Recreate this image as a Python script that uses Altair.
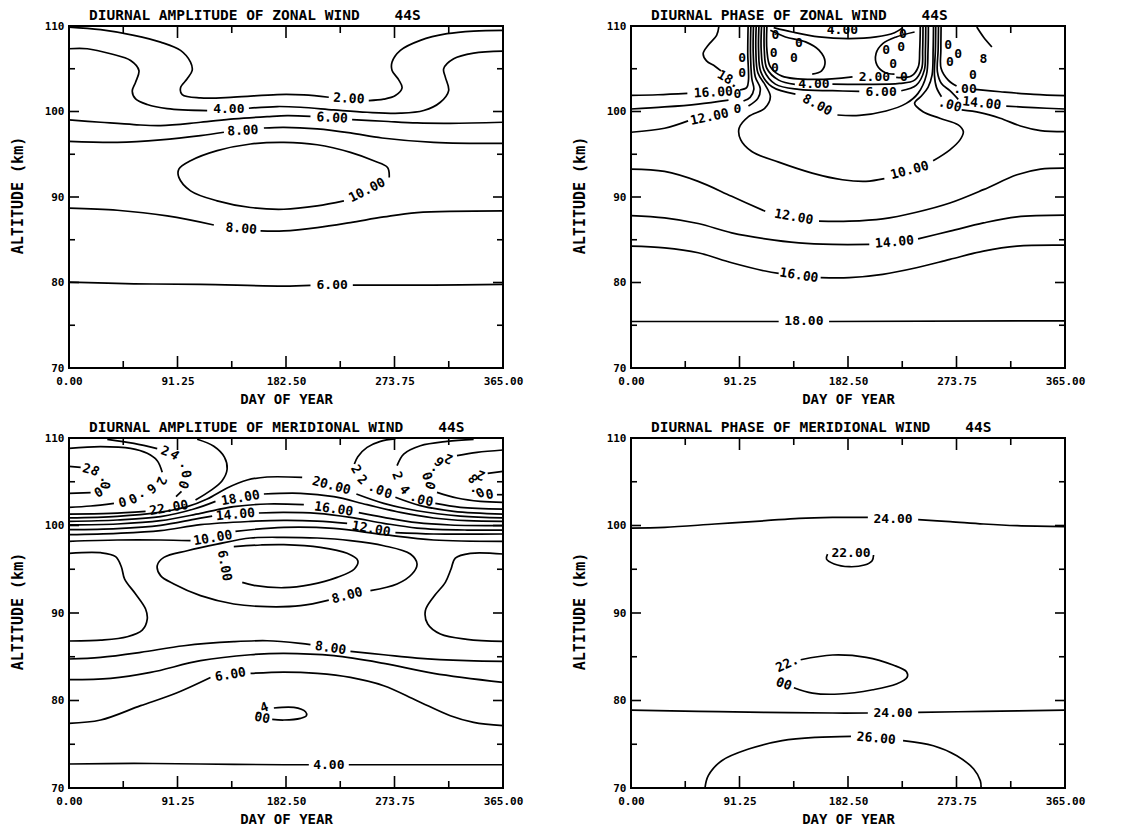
import altair as alt
import pandas as pd

FONT = "DejaVu Sans Mono"
NB = "\u00a0"

# ---------------- axis values ----------------
X_LABELS = [0, 91.25, 182.5, 273.75, 365]
Y_LABELS = [70, 80, 90, 100, 110]
X_MAJOR = [91.25, 182.5, 273.75]
X_MINOR = [45.625, 136.875, 228.125, 319.375]
Y_MAJOR = [80, 90, 100]
Y_MINOR = [75, 85, 95, 105]

TITLE_TL = "DIURNAL AMPLITUDE OF ZONAL WIND" + NB * 4 + "44S"
TITLE_TR = "DIURNAL PHASE OF ZONAL WIND" + NB * 4 + "44S"
TITLE_BL = "DIURNAL AMPLITUDE OF MERIDIONAL WIND" + NB * 4 + "44S"
TITLE_BR = "DIURNAL PHASE OF MERIDIONAL WIND" + NB * 4 + "44S"

# ---------------- top-left: amplitude of zonal wind ----------------
TL_2 = [
    [(0, 109.88), (26.6, 109.57), (54.6, 108.91), (77.0, 108.12), (93.8, 107.15), (102.2, 105.78),
     (103.6, 104.80), (99.4, 103.82), (93.8, 102.77), (95.2, 101.98), (110.6, 101.59), (138.6, 101.67),
     (175.1, 101.98), (197.5, 101.94), (218.5, 101.67)],
    [(252.1, 101.28), (264.7, 101.44), (274.5, 101.87), (280.1, 102.77), (277.3, 103.70), (271.7, 104.80),
     (271.7, 105.78), (278.7, 107.15), (295.5, 108.32), (317.9, 109.10), (340.3, 109.41), (365, 109.49)],
]
TL_4 = [
    [(0, 107.34), (15.4, 107.34), (35.0, 106.75), (51.8, 105.97), (58.8, 104.80), (56.0, 103.43),
     (53.2, 102.38), (56.0, 101.48), (65.8, 100.82), (82.6, 100.34), (116.2, 100.11)],
    [(151.3, 100.38), (175.1, 100.58), (194.7, 100.50), (222.7, 100.19), (250.7, 99.91), (278.7, 99.80),
     (298.3, 100.11), (312.3, 101.08), (319.3, 102.45), (316.5, 104.02), (315.1, 105.0), (323.5, 106.17),
     (340.3, 106.83), (365, 107.07)],
]
TL_6A = [
    [(0, 99.01), (26.6, 98.74), (54.6, 98.47), (77.0, 98.35), (110.6, 98.74), (138.6, 99.13),
     (166.6, 99.40), (183.5, 99.52), (203.1, 99.44)],
    [(238.1, 99.05), (264.7, 98.86), (292.7, 98.66), (320.7, 98.62), (365, 98.74)],
]
TL_8A = [
    [(0, 96.51), (40.6, 96.39), (77.0, 96.67), (110.6, 97.17), (130.3, 97.57)],
    [(163.9, 98.07), (180.7, 98.15), (208.7, 97.96), (236.7, 97.49), (263.3, 96.90), (306.7, 96.39), (365, 96.27)],
]
TL_10 = [
    [(269.3, 92.28), (267.9, 93.46), (256.3, 94.24), (236.7, 95.22), (208.7, 96.11), (180.7, 96.39),
     (152.7, 96.20), (124.6, 95.42), (102.2, 94.24), (92.4, 93.27), (92.4, 92.29), (102.2, 90.72),
     (124.6, 89.55), (152.7, 88.77), (180.7, 88.57), (208.7, 88.96), (231.2, 89.55)],
]
TL_8B = [
    [(0, 88.69), (40.6, 88.45), (82.6, 87.79), (121.8, 86.73)],
    [(161.1, 86.03), (180.7, 86.03), (208.7, 86.42), (236.7, 87.01), (264.7, 87.67), (292.7, 88.18), (365, 88.38)],
]
TL_6B = [
    [(0, 80.05), (54.6, 79.85), (110.6, 79.78), (180.7, 79.58), (203.1, 79.66)],
    [(238.7, 79.70), (306.7, 79.70), (365, 79.78)],
]
TL_LABELS = [
    ("2.00", 235.3, 101.5, 3), ("4.00", 134.4, 100.30, 0), ("6.00", 221.3, 99.25, 3),
    ("8.00", 146.2, 97.76, 357), ("10.00", 250.7, 90.8, 333), ("8.00", 144.8, 86.30, 4),
    ("6.00", 221.3, 79.70, 0),
]

# ---------------- top-right: phase of zonal wind ----------------
TR_18 = [[(0, 75.44), (124.2, 75.44)], [(166.6, 75.44), (365, 75.52)]]
TR_16 = [
    [(0, 84.26), (28.2, 84.06), (56.5, 83.48), (84.7, 82.31), (112.9, 81.34), (124.2, 81.07)],
    [(159.5, 80.57), (183.5, 80.57), (211.7, 80.96), (240.0, 81.73), (268.2, 82.70), (296.4, 83.67),
     (324.6, 84.26), (365, 84.37)],
]
TR_14 = [
    [(0, 87.83), (28.2, 87.56), (56.5, 86.90), (84.7, 85.81), (112.9, 85.11), (141.2, 84.64),
     (169.4, 84.45), (200.4, 84.45)],
    [(241.4, 85.11), (268.2, 86.00), (296.4, 86.97), (324.6, 87.67), (365, 87.87)],
]
TR_12 = [
    [(0, 93.26), (28.2, 92.99), (56.5, 91.83), (84.7, 90.08), (112.9, 88.33)],
    [(158.1, 87.17), (183.5, 87.17), (211.7, 87.44), (240.0, 88.22), (268.2, 89.30), (296.4, 90.86),
     (324.6, 92.60), (344.4, 93.26), (365, 93.38)],
]
TR_10 = [
    [(105.3, 110), (105.0, 107.17), (106.7, 104.52), (112.9, 103.09), (117.2, 101.73), (112.4, 100.37),
     (98.8, 99.40), (90.9, 98.04), (92.3, 96.68), (101.6, 95.32), (124.2, 94.08), (152.4, 92.80),
     (177.8, 92.02), (197.6, 91.83), (213.1, 92.14)],
    [(254.1, 94.23), (268.2, 95.52), (276.7, 96.68), (279.5, 97.65), (275.2, 98.43), (259.7, 99.21),
     (245.6, 99.98), (238.5, 100.95), (244.2, 101.81), (249.8, 102.82), (253.2, 104.25), (254.1, 107.17),
     (254.4, 110)],
]
TR_12_UP = [
    [(103.0, 110), (102.8, 106.78), (104.5, 104.06), (108.7, 102.70), (106.7, 101.53), (98.8, 100.64)],
    [(48.0, 98.90), (28.2, 98.04), (0, 97.57)],
    [(256.3, 110), (256.0, 107.17), (255.2, 104.25), (256.9, 102.82), (261.1, 101.73)],
    [(278.1, 100.18), (293.6, 99.87), (310.5, 99.21), (327.5, 98.31), (344.4, 97.77), (365, 97.65)],
]
TR_14_UP = [
    [(100.8, 110), (100.5, 106.78), (101.6, 103.86), (103.3, 102.58), (100.2, 101.65), (94.6, 101.22)],
    [(82.0, 101.34), (56.5, 100.87), (28.2, 100.53), (0, 100.29)],
    [(258.6, 110), (258.3, 107.17), (257.7, 104.64), (261.1, 103.28), (268.2, 102.43), (275.2, 101.42)],
    [(315.6, 100.64), (338.8, 100.45), (365, 100.29)],
]
TR_16_UP = [
    [(98.5, 110), (98.2, 106.78), (98.8, 103.67), (97.4, 102.82), (91.7, 102.51)],
    [(47.4, 102.12), (22.6, 101.96), (0, 101.88)],
    [(260.8, 110), (260.6, 107.17), (260.8, 105.03), (266.8, 103.67), (273.8, 102.97)],
    [(289.4, 102.58), (310.5, 102.31), (338.8, 102.0), (365, 101.85)],
]
TR_18_UP = [
    [(74.0, 110), (72.0, 108.91), (64.9, 107.75), (60.7, 106.78), (63.5, 105.92), (70.6, 105.30), (75.7, 104.76)],
    [(290.8, 109.88), (296.4, 108.72), (303.5, 107.55)],
]
TR_2 = [
    [(114.3, 110), (114.3, 107.17), (117.2, 105.22), (127.0, 104.14), (155.3, 103.75), (186.3, 104.06)],
    [(223.0, 103.98), (235.7, 104.14), (241.6, 105.22), (242.8, 107.17), (243.3, 110)],
]
TR_4 = [
    [(112.1, 110), (112.1, 107.17), (114.3, 105.03), (124.2, 103.67), (137.8, 103.17)],
    [(169.4, 103.20), (197.6, 103.17), (225.8, 103.28), (238.5, 103.67), (244.5, 105.03), (245.3, 107.17), (245.6, 110)],
    [(120.0, 109.81), (135.5, 109.30), (158.1, 108.72), (183.5, 108.52), (206.1, 108.72), (221.6, 109.22), (228.7, 109.81)],
]
TR_6 = [
    [(109.8, 110), (109.5, 107.17), (111.8, 104.84), (121.4, 103.20), (141.2, 102.58), (169.4, 102.43), (192.0, 102.35)],
    [(227.3, 102.43), (240.0, 103.09), (246.7, 104.84), (247.6, 107.17), (247.9, 110)],
]
TR_8 = [
    [(107.6, 110), (107.3, 107.17), (109.2, 104.64), (118.6, 102.89), (138.3, 102.04)],
    [(173.6, 99.59), (192.0, 99.55), (214.5, 100.06), (231.5, 100.95), (241.4, 102.12), (248.4, 104.25),
     (249.8, 107.17), (250.1, 110)],
]
TR_0 = [
    [(117.2, 109.50), (129.9, 108.72), (146.8, 108.14), (158.1, 107.17), (163.2, 105.81), (160.3, 104.76), (152.4, 104.37)],
    [(238.5, 109.30), (223.0, 108.72), (211.7, 107.94), (206.1, 106.78), (206.9, 105.42), (214.0, 104.52), (221.6, 104.37)],
]
TR_LABELS = [
    ("2.00", 204.7, 104.06, 0), ("4.00", 153.9, 103.20, 0), ("6.00", 210.3, 102.31, 0),
    ("8.00", 156.7, 100.76, 28), ("10.00", 234.3, 93.11, 345), ("12.00", 136.9, 87.67, 10),
    ("14.00", 221.6, 84.72, 355), ("16.00", 141.2, 80.84, 9), ("18.00", 145.4, 75.44, 0),
    ("12.00", 66.0, 99.35, 348), ("0", 89.5, 102.05, 0), ("0", 89.5, 100.30, 0),
    ("16.00", 69.2, 102.23, 357), ("18.", 81.9, 103.75, 30), (".00", 268.2, 100.76, 15),
    ("14.00", 295.0, 100.95, 6), (".00", 280.9, 102.58, 0), ("4.00", 177.8, 109.55, 0),
    ("0", 121.4, 108.91, 0), ("0", 141.2, 108.02, 0), ("0", 120.0, 106.90, 0), ("0", 137.0, 106.20, 0),
    ("0", 121.0, 105.05, 0), ("0", 93.5, 106.30, 0), ("0", 93.5, 104.55, 0), ("0", 228.7, 109.11, 0),
    ("0", 227.3, 107.55, 0), ("0", 214.5, 107.17, 0), ("0", 220.5, 105.55, 0), ("0", 229.5, 104.05, 0),
    ("0", 266.8, 107.75, 0), ("0", 268.2, 105.81, 0), ("0", 275.2, 106.78, 0), ("0", 287.5, 104.25, 0),
    ("8", 296.4, 106.19, 0),
]

# ---------------- bottom-left: amplitude of meridional wind ----------------
BL_28 = [[(0, 106.76), (9.8, 106.65)], [(18.2, 103.75), (0, 103.68)],
         [(365, 106.19), (352.1, 105.96)], [(359.9, 103.52), (365, 103.52)]]
BL_26 = [
    [(0, 108.82), (26.6, 109.01), (51.8, 108.82), (65.8, 108.25), (74.2, 107.41), (78.4, 106.08)],
    [(37.8, 102.53), (18.2, 102.23), (0, 102.08)],
    [(365, 108.63), (343.1, 108.36), (326.3, 107.98)],
    [(309.5, 103.79), (326.3, 103.14), (345.9, 102.76), (365, 102.65)],
]
BL_24 = [
    [(32.2, 109.85), (54.6, 109.39), (74.2, 108.78)],
    [(94.6, 103.90), (90.0, 103.29)],
    [(340.3, 109.85), (317.9, 109.62), (295.5, 109.12), (281.5, 108.17), (275.9, 106.84)],
    [(308.1, 102.53), (329.1, 102.08), (365, 101.88)],
]
BL_22 = [
    [(107.8, 109.85), (121.8, 109.05), (130.8, 107.79), (133.0, 106.46), (128.8, 105.12), (119.0, 103.98), (106.4, 102.91)],
    [(64.4, 101.62), (35.0, 101.39), (0, 101.31)],
    [(274.5, 109.89), (261.9, 109.62), (250.7, 108.93), (242.9, 107.87), (240.0, 107.03)],
    [(274.5, 103.22), (295.5, 102.27), (323.5, 101.62), (365, 101.31)],
]
BL_20 = [
    [(0, 100.86), (40.6, 101.05), (74.2, 101.47), (99.4, 102.15), (116.2, 103.03), (133.0, 104.29),
     (149.9, 105.20), (166.6, 105.54), (196.1, 105.50)],
    [(241.7, 103.60), (264.7, 102.53), (292.7, 101.69), (329.1, 101.08), (365, 100.86)],
]
BL_18 = [
    [(0, 100.47), (40.6, 100.63), (77.0, 101.01), (105.0, 101.88), (123.2, 102.76)],
    [(163.9, 103.60), (194.7, 103.68), (222.7, 103.29), (250.7, 102.38), (278.7, 101.50), (306.7, 100.86),
     (334.7, 100.55), (365, 100.47)],
]
BL_16 = [
    [(0, 100.06), (40.6, 100.17), (77.0, 100.55), (110.6, 101.39), (138.6, 102.15), (166.6, 102.46), (197.5, 102.38)],
    [(243.7, 101.47), (264.7, 100.93), (292.7, 100.32), (320.7, 100.06), (365, 99.98)],
]
BL_14 = [
    [(0, 99.52), (40.6, 99.64), (77.0, 100.02), (105.0, 100.70), (120.4, 101.08)],
    [(159.7, 101.43), (180.7, 101.50), (208.7, 101.39), (236.7, 100.93), (264.7, 100.25), (292.7, 99.71),
     (334.7, 99.48), (365, 99.48)],
]
BL_12 = [
    [(0, 98.95), (40.6, 99.10), (77.0, 99.41), (110.6, 100.09), (152.7, 100.47), (180.7, 100.59),
     (208.7, 100.51), (233.9, 100.25)],
    [(274.5, 99.18), (306.7, 99.03), (365, 99.03)],
]
BL_10 = [
    [(0, 98.19), (40.6, 98.34), (77.0, 98.34), (102.2, 98.27)],
    [(140.0, 99.33), (180.7, 99.79), (222.7, 99.67), (264.7, 98.95), (306.7, 98.34), (365, 98.19)],
]
BL_8_SIDES = [
    [(0, 96.82), (26.6, 96.89), (39.2, 96.44), (44.0, 95.29), (46.8, 93.88), (56.0, 92.17), (64.4, 90.45),
     (65.8, 89.31), (61.6, 88.05), (49.0, 87.29), (26.6, 86.91), (0, 86.80)],
    [(365, 96.74), (337.5, 96.82), (324.9, 96.28), (321.3, 95.03), (316.5, 93.50), (306.7, 91.86),
     (299.7, 90.26), (301.7, 88.74), (312.3, 87.60), (334.7, 86.99), (365, 86.76)],
]
BL_8_RING = [
    [(253.5, 92.55), (275.9, 93.31), (288.5, 94.45), (292.7, 95.60), (287.1, 96.74), (264.7, 97.69),
     (236.7, 98.27), (208.7, 98.57), (180.7, 98.65), (152.7, 98.57), (124.6, 97.88), (99.4, 97.12),
     (79.8, 96.36), (74.2, 95.41), (77.0, 94.27), (88.2, 93.31), (110.6, 91.98), (138.6, 91.03),
     (166.6, 90.72), (194.7, 90.84), (218.5, 91.48)],
]
BL_6_CORE = [
    [(138.6, 97.58), (161.1, 97.77), (180.7, 97.81), (211.5, 97.50), (233.9, 96.82), (242.9, 95.98),
     (240.0, 95.03), (225.5, 94.07), (203.1, 93.24), (180.7, 92.89), (155.5, 93.16), (145.7, 93.50)],
]
BL_8_LOW = [
    [(0, 84.74), (26.6, 84.93), (60.2, 85.50), (96.6, 86.26), (138.6, 86.72), (166.6, 86.83), (194.7, 86.53), (203.1, 86.38)],
    [(236.7, 85.61), (264.7, 85.23), (292.7, 84.85), (334.7, 84.55), (365, 84.47)],
]
BL_7 = [
    [(0, 82.38), (35.0, 82.53), (68.6, 83.21), (110.6, 84.55), (152.7, 85.23), (180.7, 85.39),
     (222.7, 85.12), (264.7, 84.24), (306.7, 83.10), (365, 82.07)],
]
BL_6 = [
    [(0, 77.39), (26.6, 77.77), (60.2, 79.41), (88.2, 80.74), (119.0, 82.64)],
    [(152.7, 83.10), (180.7, 83.25), (208.7, 83.10), (236.7, 82.64), (264.7, 81.69), (292.7, 79.98),
     (320.7, 78.26), (340.3, 77.50), (365, 77.12)],
]
BL_4_LOOP = [
    [(172.3, 79.14), (189.1, 79.21), (198.9, 78.72), (199.7, 78.26), (194.7, 77.96), (180.7, 77.77), (170.9, 77.84)],
]
BL_4 = [
    [(0, 72.74), (54.6, 72.81), (110.6, 72.74), (180.7, 72.66), (201.7, 72.66)],
    [(235.3, 72.66), (306.7, 72.66), (365, 72.66)],
]
BL_LABELS = [
    ("2", 14.8, 106.46, 15), ("8", 21.8, 106.19, 30), (".", 28.0, 105.50, 0), ("0", 30.0, 104.59, 95), ("0", 24.4, 103.90, 150),
    ("2", 77.6, 105.12, 110), ("6", 69.2, 104.29, 140), (".", 61.6, 103.68, 0), ("0", 53.5, 103.14, 155), ("0", 44.8, 102.76, 165),
    ("2", 80.7, 108.48, 20), ("4", 88.8, 108.02, 35), (".", 95.2, 107.10, 0), ("0", 98.3, 105.88, 80), ("0", 96.1, 104.67, 110),
    ("22.00", 84.0, 102.00, 350), ("20.00", 220.7, 104.55, 15), ("18.00", 144.2, 103.14, 350),
    ("16.00", 222.7, 101.88, 8), ("14.00", 140.0, 101.24, 355), ("12.00", 254.1, 99.60, 10),
    ("10.00", 121.0, 98.57, 350), ("8.00", 233.9, 91.98, 345), ("6.00", 130.8, 95.41, 80),
    ("8.00", 219.9, 85.99, 8), ("6.00", 135.8, 82.95, 350), (".4", 161.1, 79.02, 340), ("00", 162.5, 78.0, 10),
    ("4.00", 218.5, 72.66, 0),
    ("2", 241.2, 106.42, 60), ("2", 246.5, 105.20, 45), (".", 254.1, 104.44, 0), ("0", 261.3, 103.98, 20), ("0", 268.3, 103.60, 15),
    ("2", 275.9, 105.69, 70), ("4", 282.1, 104.06, 50), (".", 289.3, 103.22, 0), ("0", 296.1, 102.91, 15), ("0", 303.1, 102.72, 10),
    ("2", 319.3, 107.68, 200), ("6", 311.7, 107.33, 220), (".", 306.7, 106.72, 0), ("0", 302.0, 105.69, 250), ("0", 304.5, 104.55, 290),
    ("2", 346.5, 105.77, 200), ("8", 340.3, 105.39, 230), (".", 339.8, 104.29, 0), ("0", 345.9, 103.68, 330), ("0", 353.8, 103.52, 350),
]

# ---------------- bottom-right: phase of meridional wind ----------------
BR_24A = [
    [(0, 99.71), (28.3, 99.79), (70.6, 100.17), (113.0, 100.55), (141.3, 100.82), (169.5, 100.93), (199.2, 100.93)],
    [(241.5, 100.67), (268.4, 100.44), (296.6, 100.17), (324.9, 99.98), (365, 99.87)],
]
BR_22A = [[(165.3, 96.74), (164.4, 96.17), (170.9, 95.60), (183.6, 95.29), (196.3, 95.48), (202.8, 95.98), (204.0, 96.63)]]
BR_22B = [[(142.7, 84.66), (169.5, 85.20), (197.8, 84.93), (220.4, 84.05), (231.7, 83.29), (232.2, 82.64),
           (223.2, 81.88), (203.4, 81.23), (175.2, 80.74), (152.6, 80.85), (137.0, 81.46)]]
BR_24B = [
    [(0, 78.91), (56.5, 78.76), (113.0, 78.64), (169.5, 78.57), (199.2, 78.57)],
    [(241.5, 78.64), (296.6, 78.76), (365, 78.91)],
]
BR_26 = [
    [(62.2, 70), (65.0, 71.41), (76.3, 73.12), (98.9, 74.45), (127.1, 75.41), (155.4, 75.79), (185.0, 75.90)],
    [(228.8, 75.41), (254.3, 74.83), (274.0, 73.69), (288.2, 72.17), (293.8, 70.83), (294.4, 70)],
]
BR_LABELS = [
    ("24.00", 220.4, 100.74, 0), ("22.00", 185.0, 96.86, 0), ("22.", 131.4, 84.17, 335),
    ("00", 128.5, 81.88, 20), ("24.00", 220.4, 78.57, 0), ("26.00", 206.2, 75.67, 5),
]

W = 434
H_TOP = 342
H_BOT = 350


def make_panel(contours, labels, title, h):
    rows = []
    for ci, segs in enumerate(contours):
        for si, seg in enumerate(segs):
            for pi, (d, a) in enumerate(seg):
                rows.append({"day": d, "alt": a, "seg": f"{ci}-{si}", "i": pi})
    line_df = pd.DataFrame(rows)
    lab_df = pd.DataFrame(labels, columns=["txt", "day", "alt", "ang"])

    xs = alt.Scale(domain=[0, 365], nice=False, zero=False)
    ys = alt.Scale(domain=[70, 110], nice=False, zero=False)
    xax = alt.Axis(values=X_LABELS, format=".2f", title="DAY OF YEAR", ticks=False, domain=False, grid=False,
                   labelFont=FONT, labelFontWeight="bold", labelFontSize=11, labelPadding=7, labelColor="black",
                   labelFlush=False, labelOverlap=False,
                   titleFont=FONT, titleFontWeight="bold", titleFontSize=14, titleColor="black",
                   titleX=W / 2, titleY=31, titleBaseline="middle", titleAlign="center")
    yax = alt.Axis(values=Y_LABELS, format="d", title="ALTITUDE (km)", ticks=False, domain=False, grid=False,
                   labelFont=FONT, labelFontWeight="bold", labelFontSize=11, labelPadding=5, labelColor="black",
                   labelOverlap=False, labelFlush=False,
                   titleFont=FONT, titleFontWeight="bold", titleFontSize=15, titleColor="black",
                   titleX=-52, titleY=h / 2 - 2, titleAngle=270, titleBaseline="middle", titleAlign="center")
    XX = alt.X("day:Q", scale=xs, axis=xax)
    YY = alt.Y("alt:Q", scale=ys, axis=yax)

    lines = alt.Chart(line_df).mark_line(color="black", strokeWidth=1.7, interpolate="catmull-rom", clip=True).encode(
        x=XX, y=YY, detail="seg:N", order="i:Q",
    )
    texts = alt.Chart(lab_df).mark_text(font=FONT, fontWeight="bold", fontSize=13, color="black").encode(
        x=XX, y=YY, text="txt:N", angle=alt.Angle("ang:Q", scale=None),
    )
    rule = dict(color="black", strokeWidth=1.6)
    xmaj = pd.DataFrame({"day": X_MAJOR})
    xmin = pd.DataFrame({"day": X_MINOR})
    ymaj = pd.DataFrame({"alt": Y_MAJOR})
    ymin = pd.DataFrame({"alt": Y_MINOR})
    ticks = [
        alt.Chart(xmaj).mark_rule(**rule).encode(x=XX, y=alt.value(h), y2=alt.value(h - 12)),
        alt.Chart(xmaj).mark_rule(**rule).encode(x=XX, y=alt.value(0), y2=alt.value(12)),
        alt.Chart(xmin).mark_rule(**rule).encode(x=XX, y=alt.value(h), y2=alt.value(h - 7)),
        alt.Chart(xmin).mark_rule(**rule).encode(x=XX, y=alt.value(0), y2=alt.value(7)),
        alt.Chart(ymaj).mark_rule(**rule).encode(y=YY, x=alt.value(0), x2=alt.value(10)),
        alt.Chart(ymaj).mark_rule(**rule).encode(y=YY, x=alt.value(W), x2=alt.value(W - 10)),
        alt.Chart(ymin).mark_rule(**rule).encode(y=YY, x=alt.value(0), x2=alt.value(6)),
        alt.Chart(ymin).mark_rule(**rule).encode(y=YY, x=alt.value(W), x2=alt.value(W - 6)),
    ]
    return alt.layer(lines, texts, *ticks).properties(
        width=W, height=h,
        title=alt.TitleParams(title, anchor="start", frame="group", dx=20, offset=-3, font=FONT,
                              fontWeight="bold", fontSize=14.5, color="black"),
    )


tl = make_panel([TL_2, TL_4, TL_6A, TL_8A, TL_10, TL_8B, TL_6B], TL_LABELS, TITLE_TL, H_TOP)
tr = make_panel([TR_18, TR_16, TR_14, TR_12, TR_10, TR_12_UP, TR_14_UP, TR_16_UP, TR_18_UP,
                 TR_2, TR_4, TR_6, TR_8, TR_0], TR_LABELS, TITLE_TR, H_TOP)
bl = make_panel([BL_28, BL_26, BL_24, BL_22, BL_20, BL_18, BL_16, BL_14, BL_12, BL_10, BL_8_SIDES,
                 BL_8_RING, BL_6_CORE, BL_8_LOW, BL_7, BL_6, BL_4_LOOP, BL_4], BL_LABELS, TITLE_BL, H_BOT)
br = make_panel([BR_24A, BR_22A, BR_22B, BR_24B, BR_26], BR_LABELS, TITLE_BR, H_BOT)

chart = alt.concat(
    tl, tr, bl, br, columns=2, spacing={"row": 70, "column": 128}, bounds="flush",
).properties(
    padding={"left": 9, "top": 6, "right": 5, "bottom": 5},
    background="white",
).configure_view(stroke="black", strokeWidth=2)

chart.save("out.html", embed_options={"renderer": "svg", "actions": False})
